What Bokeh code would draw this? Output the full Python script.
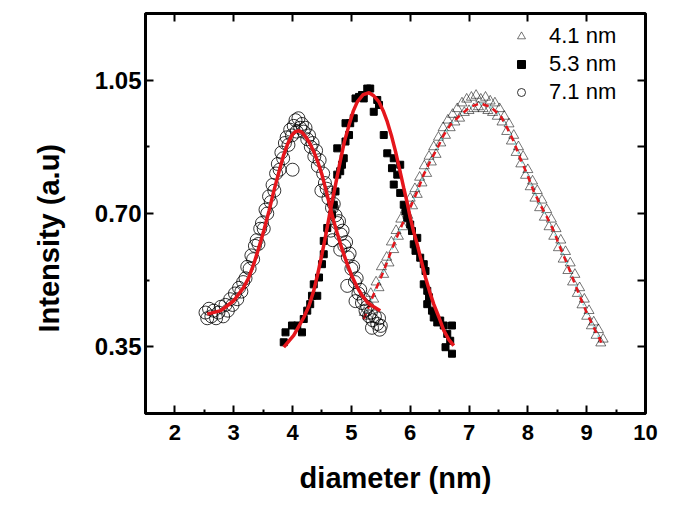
import math
from bokeh.plotting import figure
from bokeh.models import (FixedTicker, NumeralTickFormatter, Legend, LegendItem,
                          LinearAxis, Range1d, Title)
from bokeh.embed import file_html
from bokeh.resources import INLINE

# ---------------- data ----------------
x_tick_values = [2, 3, 4, 5, 6, 7, 8, 9, 10]
x_minor_values = [2.5, 3.5, 4.5, 5.5, 6.5, 7.5, 8.5, 9.5]
y_tick_values = [0.35, 0.70, 1.05]
y_minor_values = [0.525, 0.875]

# hollow circles (legend "7.1 nm")
circ_x = [2.52, 2.55, 2.58, 2.62, 2.66, 2.70, 2.74, 2.78, 2.82, 2.86, 2.90, 2.94, 2.98, 3.02,
          3.06, 3.09, 3.13, 3.16, 3.20, 3.23, 3.27, 3.30, 3.33, 3.36, 3.39, 3.42, 3.45, 3.48,
          3.51, 3.54, 3.57, 3.60, 3.63, 3.66, 3.69, 3.72, 3.75, 3.78, 3.81, 3.84, 3.87, 3.90,
          3.93, 3.96, 3.99, 4.02, 4.05, 4.07, 4.10, 4.13, 4.16, 4.00, 4.19, 4.22, 4.25, 4.28,
          4.31, 4.34, 4.37, 4.40, 4.43, 4.46, 4.49, 4.52, 4.55, 4.58, 4.61, 4.64, 4.67, 4.70,
          4.65, 4.68, 4.73, 4.76, 4.79, 4.82, 4.85, 4.88, 4.91, 4.94, 4.97, 5.00, 5.03, 5.06,
          5.09, 5.12, 5.15, 5.18, 5.21, 5.24, 5.27, 5.30, 5.33, 5.36, 5.40, 5.44, 5.47, 5.50,
          4.81, 4.93, 5.07, 5.35, 5.48]
circ_y = [0.44, 0.425, 0.45, 0.43, 0.445, 0.425, 0.44, 0.455, 0.43, 0.46, 0.445, 0.475, 0.46, 0.49,
          0.475, 0.505, 0.495, 0.52, 0.53, 0.56, 0.555, 0.59, 0.58, 0.615, 0.63, 0.62, 0.66, 0.675,
          0.66, 0.71, 0.70, 0.745, 0.73, 0.775, 0.76, 0.805, 0.83, 0.815, 0.86, 0.845, 0.885, 0.90,
          0.88, 0.92, 0.905, 0.93, 0.945, 0.915, 0.95, 0.925, 0.935, 0.815, 0.915, 0.925, 0.895, 0.905,
          0.875, 0.885, 0.85, 0.865, 0.825, 0.84, 0.76, 0.805, 0.78, 0.765, 0.74, 0.755, 0.715, 0.725,
          0.655, 0.63, 0.695, 0.675, 0.68, 0.645, 0.655, 0.615, 0.625, 0.585, 0.595, 0.555, 0.56, 0.52,
          0.53, 0.49, 0.50, 0.465, 0.475, 0.445, 0.455, 0.43, 0.44, 0.42, 0.43, 0.41, 0.425, 0.405,
          0.605, 0.51, 0.47, 0.40, 0.395]

# filled squares (legend "5.3 nm")
sq_x = [3.85, 3.88, 3.99, 4.08, 4.16, 4.19, 4.25, 4.30, 4.33, 4.36, 4.42, 4.45, 4.50, 4.53, 4.53,
        4.59, 4.67, 4.70, 4.73, 4.76, 4.81, 4.84, 4.76, 4.87, 4.90, 4.96, 4.90, 4.98, 5.04, 5.07,
        5.13, 5.18, 5.21, 5.27, 5.32, 5.38, 5.44, 5.47, 5.55, 5.61, 5.69, 5.72, 5.78, 5.83, 5.72,
        5.83, 5.89, 5.92, 5.95, 6.00, 6.03, 6.06, 6.09, 6.12, 6.17, 6.23, 6.26, 6.23, 6.29, 6.32,
        6.29, 6.37, 6.40, 6.46, 6.51, 6.57, 6.71, 6.63, 6.68, 6.60, 6.71]
sq_y = [0.362, 0.388, 0.406, 0.406, 0.388, 0.423, 0.445, 0.462, 0.484, 0.514, 0.484, 0.532, 0.567,
        0.593, 0.628, 0.662, 0.697, 0.723, 0.758, 0.802, 0.811, 0.828, 0.871, 0.845, 0.889, 0.906,
        0.937, 0.937, 0.950, 1.002, 1.006, 1.011, 1.002, 1.028, 1.028, 0.967, 0.998, 0.985, 0.906,
        0.858, 0.819, 0.845, 0.802, 0.828, 0.776, 0.754, 0.723, 0.706, 0.689, 0.671, 0.654, 0.619,
        0.602, 0.636, 0.584, 0.567, 0.549, 0.514, 0.497, 0.480, 0.462, 0.445, 0.427, 0.414, 0.419,
        0.406, 0.406, 0.384, 0.366, 0.349, 0.332]

# hollow triangles (legend "4.1 nm")
tri_x = [5.22, 5.28, 5.33, 5.38, 5.42, 5.47, 5.51, 5.55, 5.60, 5.64, 5.68, 5.72, 5.76, 5.80, 5.84,
         5.88, 5.92, 5.96, 6.00, 6.04, 6.08, 6.12, 6.16, 6.20, 6.24, 6.28, 6.32, 6.36, 6.40, 6.44,
         6.48, 6.52, 6.56, 6.60, 6.64, 6.68, 6.72, 6.76, 6.80, 6.84, 6.88, 6.92, 6.96, 7.00, 7.04,
         7.08, 7.12, 7.16, 7.20, 7.24, 7.28, 7.32, 7.36, 7.40, 7.44, 7.48, 7.52, 7.56, 7.60, 7.64,
         7.68, 7.72, 7.76, 7.80, 7.84, 7.88, 7.92, 7.96, 8.00, 8.04, 8.08, 8.12, 8.16, 8.20, 8.24,
         8.28, 8.32, 8.36, 8.40, 8.44, 8.48, 8.52, 8.56, 8.60, 8.64, 8.68, 8.72, 8.76, 8.80, 8.84,
         8.88, 8.92, 8.96, 9.00, 9.04, 9.08, 9.12, 9.16, 9.20, 9.24, 9.28]
tri_y = [0.44, 0.43, 0.49, 0.475, 0.52, 0.505, 0.56, 0.54, 0.585, 0.57, 0.625, 0.605, 0.655, 0.64,
         0.685, 0.665, 0.71, 0.695, 0.74, 0.72, 0.765, 0.75, 0.795, 0.78, 0.825, 0.805, 0.85, 0.835,
         0.875, 0.855, 0.90, 0.885, 0.925, 0.905, 0.945, 0.925, 0.96, 0.94, 0.975, 0.95, 0.99, 0.965,
         1.00, 0.97, 1.005, 0.975, 1.01, 0.98, 1.00, 0.975, 1.005, 0.97, 0.995, 0.965, 0.99, 0.955,
         0.975, 0.94, 0.955, 0.915, 0.935, 0.89, 0.905, 0.86, 0.875, 0.83, 0.85, 0.80, 0.815, 0.77,
         0.785, 0.74, 0.76, 0.715, 0.735, 0.69, 0.71, 0.665, 0.685, 0.64, 0.66, 0.61, 0.63, 0.58,
         0.60, 0.55, 0.57, 0.52, 0.54, 0.49, 0.505, 0.46, 0.475, 0.43, 0.445, 0.405, 0.415, 0.38,
         0.395, 0.36, 0.37]

# fitted curves
cfit_x = [2.55, 2.78, 3.00, 3.17, 3.25, 3.34, 3.42, 3.51, 3.60, 3.68, 3.77, 3.85, 3.92, 3.99, 4.05,
          4.11, 4.16, 4.22, 4.29, 4.36, 4.43, 4.50, 4.57, 4.64, 4.70, 4.76, 4.84, 4.93, 5.01, 5.10,
          5.18, 5.27, 5.38, 5.49]
cfit_y = [0.436, 0.445, 0.471, 0.506, 0.530, 0.567, 0.607, 0.654, 0.707, 0.758, 0.810, 0.854, 0.884,
          0.906, 0.915, 0.917, 0.913, 0.902, 0.885, 0.863, 0.835, 0.802, 0.760, 0.716, 0.680, 0.648,
          0.607, 0.567, 0.535, 0.506, 0.485, 0.467, 0.455, 0.445]

sfit_x = [3.85, 4.02, 4.19, 4.28, 4.36, 4.43, 4.50, 4.57, 4.64, 4.73, 4.81, 4.88, 4.96, 5.03, 5.10,
          5.20, 5.30, 5.38, 5.47, 5.54, 5.61, 5.68, 5.75, 5.82, 5.89, 5.95, 6.00, 6.06, 6.12, 6.19,
          6.26, 6.33, 6.40, 6.49, 6.57, 6.66, 6.74]
sfit_y = [0.349, 0.380, 0.427, 0.458, 0.497, 0.543, 0.593, 0.648, 0.706, 0.775, 0.837, 0.888, 0.932,
          0.968, 0.993, 1.012, 1.017, 1.009, 0.993, 0.970, 0.941, 0.905, 0.863, 0.816, 0.767, 0.727,
          0.689, 0.652, 0.619, 0.575, 0.532, 0.495, 0.462, 0.427, 0.393, 0.368, 0.353]

tfit_x = [5.21, 5.38, 5.55, 5.72, 5.89, 6.00, 6.12, 6.23, 6.34, 6.46, 6.57, 6.68, 6.85, 7.02, 7.19,
          7.36, 7.53, 7.65, 7.76, 7.87, 7.99, 8.10, 8.21, 8.33, 8.44, 8.55, 8.67, 8.78, 8.89, 9.01,
          9.12, 9.26]
tfit_y = [0.423, 0.488, 0.549, 0.619, 0.680, 0.715, 0.758, 0.802, 0.837, 0.871, 0.906, 0.932, 0.958,
          0.980, 0.989, 0.980, 0.958, 0.924, 0.889, 0.845, 0.802, 0.758, 0.723, 0.689, 0.654, 0.610,
          0.567, 0.523, 0.480, 0.436, 0.401, 0.358]

legend_labels = ["4.1 nm", "5.3 nm", "7.1 nm"]

# ---------------- figure ----------------
FONT = "Liberation Sans"
RED = "#e5161c"

p = figure(width=677, height=497, output_backend="svg", toolbar_location=None,
           x_range=Range1d(1.5, 10.0), y_range=Range1d(0.175, 1.225),
           min_border_left=145, min_border_right=32, min_border_top=13, min_border_bottom=84)
p.xgrid.visible = False
p.ygrid.visible = False
p.background_fill_color = "white"
p.border_fill_color = "white"
p.outline_line_color = "black"
p.outline_line_width = 3

ax = p.xaxis[0]
ax.ticker = FixedTicker(ticks=x_tick_values, minor_ticks=x_minor_values)
ay = p.yaxis[0]
ay.ticker = FixedTicker(ticks=y_tick_values, minor_ticks=y_minor_values)
ay.formatter = NumeralTickFormatter(format="0.00")

for a in (ax, ay):
    a.axis_line_width = 3
    a.major_tick_in = 8
    a.major_tick_out = 0
    a.minor_tick_in = 4
    a.minor_tick_out = 0
    a.major_tick_line_width = 2
    a.minor_tick_line_width = 2
    a.major_label_text_font = FONT
    a.major_label_text_font_style = "bold"
    a.major_label_text_color = "black"
ax.major_label_text_font_size = "22px"
ay.major_label_text_font_size = "24px"
ax.major_label_standoff = 11
ay.major_label_standoff = 4

ax.axis_label = "diameter (nm)"
ax.axis_label_text_font = FONT
ax.axis_label_text_font_style = "bold"
ax.axis_label_text_font_size = "29px"
ax.axis_label_text_color = "black"
ax.axis_label_standoff = 19

# mirrored ticks on top and right (labels not drawn)
top = LinearAxis(ticker=FixedTicker(ticks=x_tick_values, minor_ticks=[]),
                 major_label_text_font_size="1px", major_label_text_color=None,
                 major_label_standoff=0, axis_line_color=None,
                 major_tick_in=8, major_tick_out=0, minor_tick_in=0, minor_tick_out=0,
                 major_tick_line_width=2)
p.add_layout(top, "above")
right = LinearAxis(ticker=FixedTicker(ticks=y_tick_values, minor_ticks=y_minor_values),
                   major_label_text_font_size="1px", major_label_text_color=None,
                   major_label_standoff=0, axis_line_color=None,
                   major_tick_in=8, major_tick_out=0, minor_tick_in=8, minor_tick_out=0,
                   major_tick_line_width=2, minor_tick_line_width=2)
p.add_layout(right, "right")

ytitle = Title(text="Intensity (a.u)", align="left", offset=81, standoff=54,
               text_font=FONT, text_font_style="bold", text_font_size="29px",
               text_color="black")
p.add_layout(ytitle, "left")

# ---------------- marks ----------------
r_tri = p.scatter(tri_x, tri_y, marker="triangle", size=10, fill_color=None,
                  line_color="black", line_width=0.6, line_alpha=0.9)
p.line(tfit_x, tfit_y, line_color="#7fdede", line_width=1.5, line_dash="2 3")
p.line(tfit_x, tfit_y, line_color=RED, line_width=2.5, line_dash="6 5")

r_circ = p.scatter(circ_x, circ_y, marker="circle", size=13, fill_color=None,
                   line_color="black", line_width=0.8)
r_sq = p.scatter(sq_x, sq_y, marker="square", size=7, fill_color="black",
                 line_color="black")

p.line(cfit_x, cfit_y, line_color=RED, line_width=3.5)
p.line(sfit_x, sfit_y, line_color=RED, line_width=3.5)

legend = Legend(items=[LegendItem(label=legend_labels[0], renderers=[r_tri]),
                       LegendItem(label=legend_labels[1], renderers=[r_sq]),
                       LegendItem(label=legend_labels[2], renderers=[r_circ])],
                location=(366, 308), border_line_color=None, background_fill_alpha=0,
                label_text_font=FONT, label_text_font_size="22px",
                label_text_color="black",
                glyph_width=20, glyph_height=22, label_height=22, spacing=2,
                padding=0, margin=0, label_standoff=18)
p.add_layout(legend)

open("out.html", "w").write(file_html(p, INLINE))
